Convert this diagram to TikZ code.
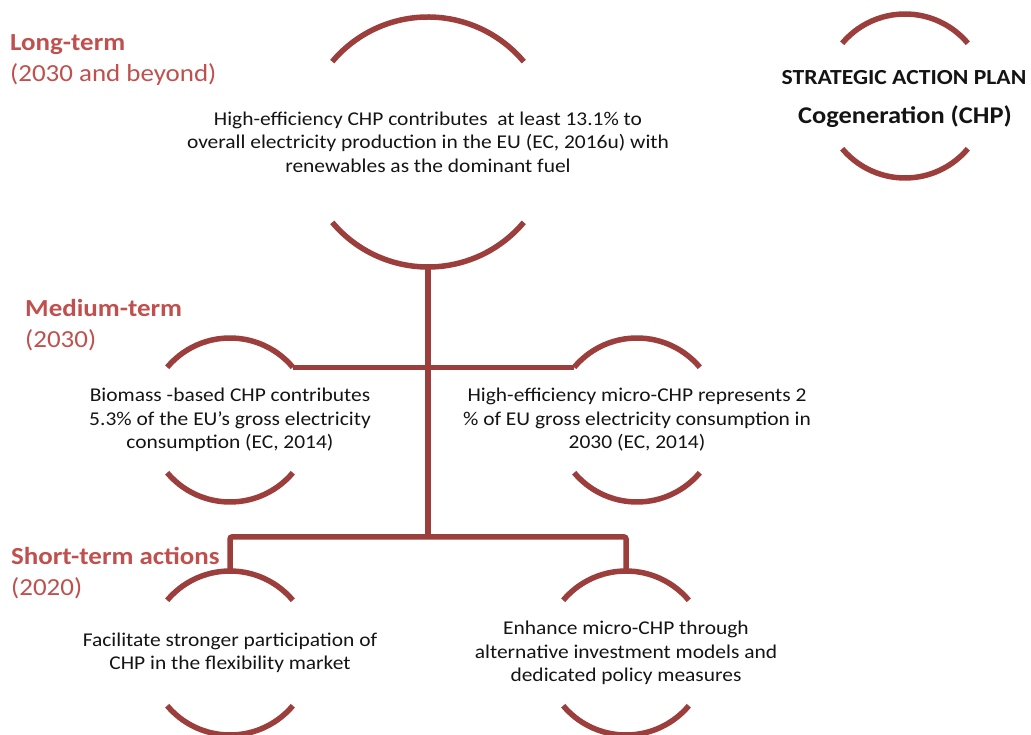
\documentclass[tikz,border=0pt]{standalone}
\usepackage{fontspec}
\setmainfont[FakeStretch=1.1]{Carlito}
\definecolor{linered}{RGB}{156,62,60}
\definecolor{labelred}{RGB}{192,80,77}
\definecolor{bodytext}{RGB}{20,20,20}
\tikzset{
  arcline/.style={draw=linered, line width=5.5pt},
  link/.style={draw=linered, line width=5.5pt},
  body/.style={align=center, text=bodytext, inner sep=0pt,
    font=\fontsize{19.5}{23.5}\selectfont},
  phase/.style={anchor=west, align=left, text=labelred, inner sep=0pt,
    font=\fontsize{24.5}{31}\selectfont},
}
\begin{document}
\begin{tikzpicture}[x=1pt,y=1pt]
\useasboundingbox (0,0) rectangle (1031,734);

% circle centres
\coordinate (cbig) at (428,592);
\coordinate (cml) at (230,314);
\coordinate (cmr) at (637,314);
\coordinate (csl) at (230,81);
\coordinate (csr) at (626,81);
\coordinate (ctitle) at (905,638);

% split circles: an upper and a lower arc around each statement
\draw[arcline] ([shift={(140:125)}]cbig) arc[start angle=140,end angle=40,radius=125];
\draw[arcline] ([shift={(220:125)}]cbig) arc[start angle=220,end angle=320,radius=125];
\foreach \c in {cml,cmr,csl,csr,ctitle}{
  \draw[arcline] ([shift={(140:82)}]\c) arc[start angle=140,end angle=40,radius=82];
  \draw[arcline] ([shift={(220:82)}]\c) arc[start angle=220,end angle=320,radius=82];
}

% statements
\node[body] (big) at (cbig) {High-efficiency CHP contributes\ \ at least 13.1\% to\\overall electricity production in the EU (EC, 2016u) with\\renewables as the dominant fuel};
\node[body] (ml) at (cml) {Biomass -based CHP contributes\\5.3\% of the EU’s gross electricity\\consumption (EC, 2014)};
\node[body] (mr) at (cmr) {High-efficiency micro-CHP represents 2\\\% of EU gross electricity consumption in\\2030 (EC, 2014)};
\node[body] (sl) at (csl) {Facilitate stronger participation of\\CHP in the flexibility market};
\node[body] (sr) at (csr) {Enhance micro-CHP through\\alternative investment models and\\dedicated policy measures};
\node[body, font=\bfseries\fontsize{21.5}{26}\selectfont] (title1) at (904,656) {STRATEGIC ACTION PLAN};
\node[body, font=\bfseries\fontsize{24}{28}\selectfont] (title2) at (905,617) {Cogeneration (CHP)};

% phase labels
\node[phase] (long) at (10,674) {\textbf{Long-term}\\(2030 and beyond)};
\node[phase] (medium) at (25,409) {\textbf{Medium-term}\\(2030)};
\node[phase] (short) at (11,161) {\textbf{Short-term actions}\\(2020)};

% connectors
\coordinate (bigbot) at ([shift={(270:125)}]cbig);
\coordinate (mlR) at ([shift={(40:82)}]cml);
\coordinate (mrL) at ([shift={(140:82)}]cmr);
\coordinate (sltop) at ([shift={(90:82)}]csl);
\coordinate (srtop) at ([shift={(90:82)}]csr);
\coordinate (fork) at (428,197);
\draw[link] (bigbot) -- (fork);
\draw[link] (mlR) -- (mrL);
\draw[link, rounded corners=2pt] (sltop) |- (fork) -| (srtop);
\end{tikzpicture}
\end{document}
